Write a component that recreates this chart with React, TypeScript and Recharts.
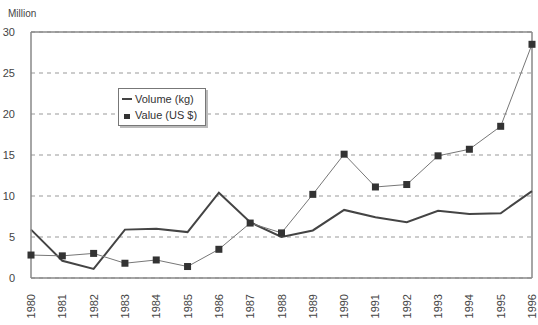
import React from 'react';
import { LineChart, Line, XAxis, YAxis, CartesianGrid, ReferenceLine } from 'recharts';

const years = ['1980','1981','1982','1983','1984','1985','1986','1987','1988','1989','1990','1991','1992','1993','1994','1995','1996'];
const volumeKg = [5.9, 2.1, 1.1, 5.9, 6.0, 5.6, 10.4, 6.8, 5.0, 5.8, 8.3, 7.4, 6.8, 8.2, 7.8, 7.9, 10.6];
const valueUsd = [2.8, 2.7, 3.0, 1.8, 2.2, 1.4, 3.5, 6.7, 5.5, 10.2, 15.1, 11.1, 11.4, 14.9, 15.7, 18.5, 28.5];
const yTicks = [0, 5, 10, 15, 20, 25, 30];

const data = years.map((y, i) => ({ year: y, volume: volumeKg[i], value: valueUsd[i] }));

const font = 'Arial, "Liberation Sans", sans-serif';

const SquareDot = (props: any) => {
  const { cx, cy } = props;
  if (cx == null || cy == null) return null;
  return <rect x={cx - 3.5} y={cy - 3.5} width={7} height={7} fill="#333" />;
};

const XTick = (props: any) => {
  const { x, y, payload } = props;
  return (
    <text x={x} y={y} transform={`rotate(-90, ${x}, ${y})`} textAnchor="end" dominantBaseline="central"
      fontSize={11} fontFamily={font} fill="#444">{payload.value}</text>
  );
};

export default function App() {
  return (
    <div style={{ position: 'absolute', left: 0, top: 0, width: 538, height: 325, background: '#fff' }}>
      <div style={{ position: 'absolute', left: 8, top: 8, fontFamily: font, fontSize: 10, color: '#444' }}>Million</div>
      <LineChart width={538} height={325} data={data} margin={{ top: 32, right: 6, bottom: 0, left: 0 }}>
        <CartesianGrid vertical={false} stroke="#999" strokeDasharray="4 4" />
        <XAxis dataKey="year" interval={0} tickLine={false} axisLine={{ stroke: '#888', strokeWidth: 1.5 }}
          height={47} tick={<XTick />} tickMargin={10} padding={{ left: 0, right: 0 }} />
        <YAxis domain={[0, 30]} ticks={yTicks} width={31} tickLine={false}
          axisLine={{ stroke: '#888', strokeWidth: 1.5 }}
          tick={{ fontSize: 11, fontFamily: font, fill: '#444' }} tickMargin={10} />
        <ReferenceLine y={30} stroke="#888" strokeWidth={1.5} />
        <ReferenceLine x="1996" stroke="#888" strokeWidth={1.5} />
        <Line type="linear" dataKey="volume" stroke="#444" strokeWidth={2} dot={false} isAnimationActive={false} />
        <Line type="linear" dataKey="value" stroke="#777" strokeWidth={1} dot={<SquareDot />} isAnimationActive={false} />
      </LineChart>
      <div style={{ position: 'absolute', left: 118, top: 88, border: '1px solid #777', background: '#fff',
        boxShadow: '2px 2px 0 #bbb', fontFamily: font, fontSize: 11, color: '#333', lineHeight: '16px',
        padding: '2px 8px 2px 3px' }}>
        <div style={{ display: 'flex', alignItems: 'center' }}>
          <span style={{ display: 'inline-block', width: 10, height: 2, background: '#444', marginRight: 3 }} />
          Volume (kg)
        </div>
        <div style={{ display: 'flex', alignItems: 'center' }}>
          <span style={{ display: 'inline-block', width: 10, marginRight: 3, textAlign: 'center' }}>
            <span style={{ display: 'inline-block', width: 6, height: 5, background: '#333' }} />
          </span>
          Value (US $)
        </div>
      </div>
    </div>
  );
}
